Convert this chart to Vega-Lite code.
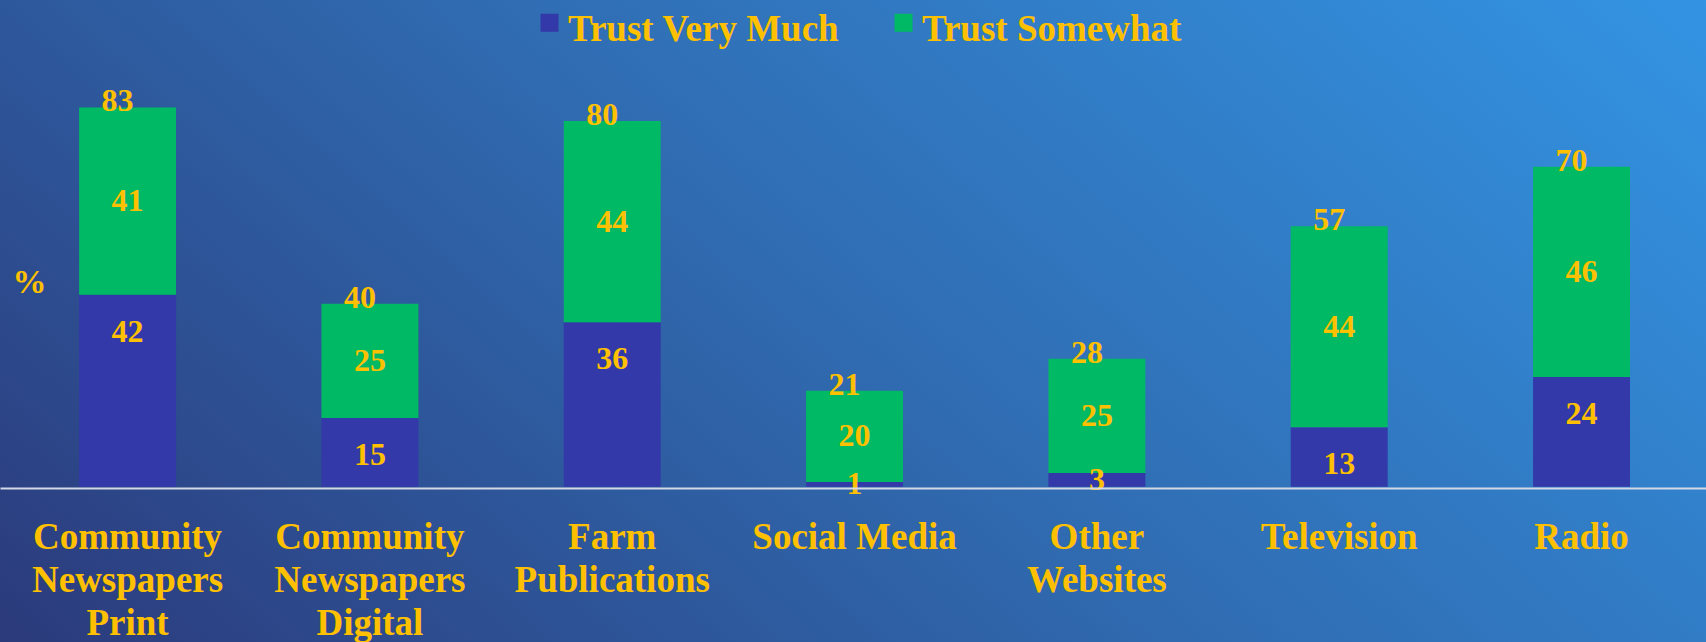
{
  "$schema": "https://vega.github.io/schema/vega-lite/v6.json",
  "width": 1706,
  "height": 642,
  "autosize": "none",
  "padding": 0,
  "background": "#2F66AC",
  "view": {
    "stroke": null,
    "fill": {
      "gradient": "linear",
      "x1": 0, "y1": 1, "x2": 1.207, "y2": 0.483,
      "stops": [
        {"offset": 0, "color": "#2B3A7B"},
        {"offset": 0.5, "color": "#306CB2"},
        {"offset": 1, "color": "#3394E3"}
      ]
    }
  },
  "config": {
    "font": "Liberation Serif"
  },
  "datasets": {
    "trust": [
      {"cat": "Community Newspapers Print", "series": "Trust Very Much", "value": 42},
      {"cat": "Community Newspapers Print", "series": "Trust Somewhat", "value": 41},
      {"cat": "Community Newspapers Digital", "series": "Trust Very Much", "value": 15},
      {"cat": "Community Newspapers Digital", "series": "Trust Somewhat", "value": 25},
      {"cat": "Farm Publications", "series": "Trust Very Much", "value": 36},
      {"cat": "Farm Publications", "series": "Trust Somewhat", "value": 44},
      {"cat": "Social Media", "series": "Trust Very Much", "value": 1},
      {"cat": "Social Media", "series": "Trust Somewhat", "value": 20},
      {"cat": "Other Websites", "series": "Trust Very Much", "value": 3},
      {"cat": "Other Websites", "series": "Trust Somewhat", "value": 25},
      {"cat": "Television", "series": "Trust Very Much", "value": 13},
      {"cat": "Television", "series": "Trust Somewhat", "value": 44},
      {"cat": "Radio", "series": "Trust Very Much", "value": 24},
      {"cat": "Radio", "series": "Trust Somewhat", "value": 46}
    ],
    "totals": [
      {"cat": "Community Newspapers Print", "total": 83},
      {"cat": "Community Newspapers Digital", "total": 40},
      {"cat": "Farm Publications", "total": 80},
      {"cat": "Social Media", "total": 21},
      {"cat": "Other Websites", "total": 28},
      {"cat": "Television", "total": 57},
      {"cat": "Radio", "total": 70}
    ]
  },
  "resolve": {"scale": {"y": "independent"}, "axis": {"x": "independent", "y": "independent"}},
  "layer": [
    {
      "data": {"name": "trust"},
      "transform": [
        {"stack": "value", "groupby": ["cat"], "sort": [{"field": "series", "order": "descending"}], "as": ["v0", "v1"]}
      ],
      "mark": {"type": "bar"},
      "encoding": {
        "x": {
          "field": "cat", "type": "nominal", "sort": null,
          "scale": {"paddingInner": 0.6, "paddingOuter": 0.32, "align": 0.51},
          "axis": {
            "orient": "bottom", "offset": -154, "title": null,
            "domain": true, "domainColor": "#D3DAE6", "domainWidth": 2,
            "ticks": false, "tickSize": 0, "grid": false,
            "labelPadding": 60, "labelBaseline": "alphabetic",
            "labelFont": "Liberation Serif", "labelFontWeight": "bold", "labelFontSize": 37,
            "labelColor": "#FFC000", "labelLineHeight": 43, "labelAngle": 0, "labelAlign": "center",
            "labelLimit": 500, "labelOverlap": false,
            "labelExpr": "datum.label == 'Social Media' ? datum.label : split(datum.label, ' ')",
            "zindex": 1
          }
        },
        "y": {
          "field": "v0", "type": "quantitative",
          "scale": {"domain": [-34, 106.5], "nice": false, "zero": false},
          "axis": {
            "orient": "left", "title": "%", "domain": false, "ticks": false, "labels": false, "grid": false,
            "titleAngle": 0, "titleX": 29, "titleY": 282, "titleAlign": "center", "titleBaseline": "middle",
            "titleFont": "Liberation Serif", "titleFontWeight": "bold", "titleFontSize": 34, "titleColor": "#FFC000",
            "zindex": 1
          }
        },
        "y2": {"field": "v1"},
        "color": {
          "field": "series", "type": "nominal",
          "scale": {"domain": ["Trust Very Much", "Trust Somewhat"], "range": ["#3339A8", "#00B964"]},
          "legend": {
            "title": null, "orient": "none", "direction": "horizontal",
            "legendX": 531, "legendY": 4, "padding": 0,
            "symbolType": "square", "symbolSize": 324, "symbolStrokeWidth": 0, "symbolOpacity": 1,
            "labelFont": "Liberation Serif", "labelFontWeight": "bold", "labelFontSize": 37, "labelColor": "#FFC000",
            "labelBaseline": "middle",
            "labelOffset": 0, "columnPadding": 45, "labelLimit": 500,
            "encode": {"labels": {"update": {"dy": {"value": 7}}}},
            "zindex": 1
          }
        }
      }
    },
    {
      "data": {"name": "trust"},
      "transform": [
        {"stack": "value", "groupby": ["cat"], "sort": [{"field": "series", "order": "descending"}], "as": ["v0", "v1"]},
        {"stack": "v1", "groupby": ["cat"], "sort": [{"field": "series", "order": "descending"}], "as": ["w0", "w1"]},
        {"filter": "datum.series == 'Trust Somewhat' || datum.value < 5"}
      ],
      "mark": {"type": "text", "font": "Liberation Serif", "fontWeight": "bold", "fontSize": 32, "color": "#FFC000", "align": "center", "baseline": "middle"},
      "encoding": {
        "x": {"field": "cat", "type": "nominal", "sort": null, "axis": null},
        "y": {"field": "w1", "type": "quantitative", "scale": {"domain": [-68, 213], "nice": false, "zero": false}, "axis": null},
        "text": {"field": "value", "type": "quantitative"}
      }
    },
    {
      "data": {"name": "trust"},
      "transform": [
        {"stack": "value", "groupby": ["cat"], "sort": [{"field": "series", "order": "descending"}], "as": ["v0", "v1"]},
        {"filter": "datum.series == 'Trust Very Much' && datum.value >= 5"}
      ],
      "mark": {"type": "text", "font": "Liberation Serif", "fontWeight": "bold", "fontSize": 32, "color": "#FFC000", "align": "center", "baseline": "middle", "dy": 37},
      "encoding": {
        "x": {"field": "cat", "type": "nominal", "sort": null, "axis": null},
        "y": {"field": "v1", "type": "quantitative", "scale": {"domain": [-34, 106.5], "nice": false, "zero": false}, "axis": null},
        "text": {"field": "value", "type": "quantitative"}
      }
    },
    {
      "data": {"name": "totals"},
      "mark": {"type": "text", "font": "Liberation Serif", "fontWeight": "bold", "fontSize": 32, "color": "#FFC000", "align": "center", "baseline": "middle", "dx": -10, "dy": -6},
      "encoding": {
        "x": {"field": "cat", "type": "nominal", "sort": null, "axis": null},
        "y": {"field": "total", "type": "quantitative", "scale": {"domain": [-34, 106.5], "nice": false, "zero": false}, "axis": null},
        "text": {"field": "total", "type": "quantitative"}
      }
    }
  ]
}
